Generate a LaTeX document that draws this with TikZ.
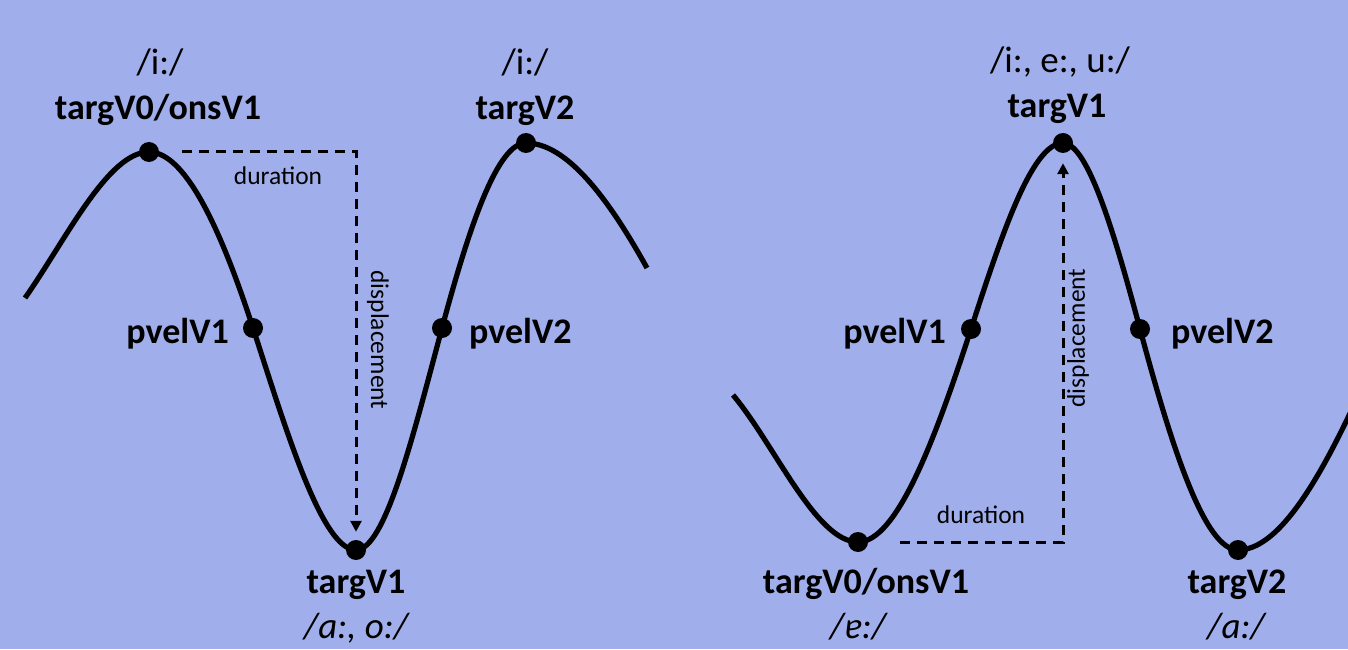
\documentclass[tikz,border=0pt]{standalone}
\usepackage{fontspec}
\setmainfont{Carlito}
\usetikzlibrary{arrows.meta,positioning}
\definecolor{slideblue}{HTML}{A0AFEB}

\begin{document}
\begin{tikzpicture}[x=1pt,y=1pt,
    wave/.style={line width=5.2pt},
    dot/.style={circle,fill=black,inner sep=0pt,minimum size=20pt},
    measure/.style={line width=3pt,dash pattern=on 10pt off 7pt,-{Triangle[length=11pt,width=11pt]}},
    tag/.style={font=\fontsize{36}{42}\selectfont\bfseries,anchor=base,inner sep=0pt},
    vowel/.style={font=\fontsize{37}{42}\selectfont,anchor=base,inner sep=0pt},
    note/.style={font=\fontsize{25.5}{30}\selectfont,inner sep=0pt}]
  \useasboundingbox (0,0) rectangle (1348,649);
  \clip (0,0) rectangle (1348,649);
  \fill[slideblue] (0,0) rectangle (1348,649);

  % left panel: high - low - high
  \coordinate (Ls) at (25,351);
  \node[dot] (L0) at (149,497) {};
  \node[dot] (Lp1) at (253,321) {};
  \node[dot] (L1) at (356,99) {};
  \node[dot] (Lp2) at (442,321) {};
  \node[dot] (L2) at (526,506) {};
  \coordinate (Le) at (647,381);
  \draw[wave] (Ls) to[out=55,in=180,out distance=72pt,in distance=41pt] (L0.center)
    to[out=0,in=108,out distance=35pt,in distance=110pt] (Lp1.center)
    to[out=-72,in=180,out distance=109pt,in distance=34pt] (L1.center)
    to[out=0,in=-105,out distance=29pt,in distance=112pt] (Lp2.center)
    to[out=75,in=180,out distance=109pt,in distance=28pt] (L2.center)
    to[out=0,in=119,out distance=40pt,in distance=82pt] (Le);
  % labels
  \node[tag] (L0tag) at (158,529) {targV0/onsV1};
  \node[vowel] (L0v) at (160,574) {/i:/};
  \node[tag,anchor=base east] (Lp1tag) at (229,306) {pvelV1};
  \node[tag] (L1tag) at (356,56) {targV1};
  \node[vowel,font=\fontsize{37}{42}\selectfont\itshape] (L1v) at (356,11) {/a:, o:/};
  \node[tag,anchor=base west] (Lp2tag) at (469,306) {pvelV2};
  \node[tag] (L2tag) at (525,529) {targV2};
  \node[vowel] (L2v) at (525,574) {/i:/};
  % duration and displacement
  \coordinate (Lc) at (L1 |- L0);
  \draw[measure,shorten <=23pt,shorten >=8pt] (L0) -- (Lc) -- (L1);
  \node[note,anchor=base] (Ldur) at (278,464) {duration};
  \node[note,rotate=-90] (Ldisp) at (378,309) {displacement};

  % right panel: low - high - low
  \coordinate (Rs) at (733,254);
  \node[dot] (R0) at (858,107) {};
  \node[dot] (Rp1) at (971,320) {};
  \node[dot] (R1) at (1063,506) {};
  \node[dot] (Rp2) at (1140,320) {};
  \node[dot] (R2) at (1238,99) {};
  \coordinate (Re) at (1388,321);
  \draw[wave] (Rs) to[out=-50,in=180,out distance=65pt,in distance=42pt] (R0.center)
    to[out=0,in=-108,out distance=38pt,in distance=121pt] (Rp1.center)
    to[out=72,in=180,out distance=99pt,in distance=31pt] (R1.center)
    to[out=0,in=105,out distance=25pt,in distance=96pt] (Rp2.center)
    to[out=-75,in=180,out distance=125pt,in distance=33pt] (R2.center)
    to[out=0,in=247,out distance=50pt,in distance=126pt] (Re);
  % labels
  \node[tag] (R0tag) at (866,56) {targV0/onsV1};
  \node[vowel,font=\fontsize{37}{42}\selectfont\itshape] (R0v) at (858,11) {/ɐ:/};
  \node[tag,anchor=base east] (Rp1tag) at (946,306) {pvelV1};
  \node[tag] (R1tag) at (1057,531) {targV1};
  \node[vowel] (R1v) at (1060,576) {/i:, e:, u:/};
  \node[tag,anchor=base west] (Rp2tag) at (1171,306) {pvelV2};
  \node[tag] (R2tag) at (1237,56) {targV2};
  \node[vowel,font=\fontsize{37}{42}\selectfont\itshape] (R2v) at (1236,11) {/a:/};
  % duration and displacement
  \coordinate (Rc) at (R1 |- R0);
  \draw[measure,shorten <=32pt,shorten >=10pt] (R0) -- (Rc) -- (R1);
  \node[note,anchor=base] (Rdur) at (981,126) {duration};
  \node[note,rotate=90] (Rdisp) at (1078,311) {displacement};
\end{tikzpicture}
\end{document}
